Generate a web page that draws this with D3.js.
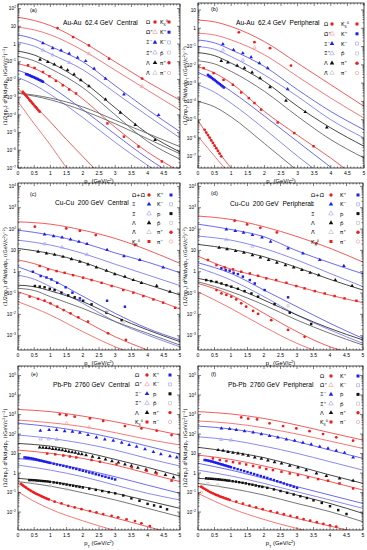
<!DOCTYPE html>
<html>
<head>
<meta charset="utf-8">
<script src="https://cdn.jsdelivr.net/npm/d3@7"></script>
<style>
  body { margin: 0; background: #fff; }
  text { font-family: "Liberation Sans", "DejaVu Sans", Arial, sans-serif; fill: #000; }
  text.greek { font-family: "DejaVu Sans", "Noto Sans", sans-serif; }
</style>
</head>
<body>
<svg id="chart" width="367" height="550"></svg>
<script>
// values are log10 of (1/2πpT) d²N/dydpT

// ---- panel (a) Au-Au 62.4 GeV central
const titleA = "Au-Au  62.4 GeV  Central";
const legendA = [["Om", "K0"], ["OmB", "Kp"], ["Xi", "Km"], ["XiB", "pB"], ["La", "pip"], ["LaB", "pim"]];
const curvesA = [
  { sp: "Om",  v: [[0, 1.51], [0.5, 1.33], [1, 1.04], [2, 0.11], [3, -1.01], [4, -2.14], [5, -3.17]] },
  { sp: "OmB", v: [[0, 0.95], [0.5, 0.80], [1, 0.52], [2, -0.36], [3, -1.48], [4, -2.61], [5, -3.73]] },
  { sp: "Xi",  v: [[0, 0.52], [0.5, 0.28], [1, -0.13], [2, -1.0], [3, -2.35], [4, -3.7], [5, -4.95]] },
  { sp: "XiB", v: [[0, 0.11], [0.5, -0.12], [1, -0.55], [2, -1.45], [3, -2.75], [4, -4.05], [5, -5.3]] },
  { sp: "La",  v: [[0, -0.40], [0.5, -0.62], [1, -1.05], [2, -2.12], [3, -3.6], [4, -5.05], [5, -6.1]] },
  { sp: "LaB", v: [[0, -0.70], [0.5, -0.95], [1, -1.39], [2, -2.46], [3, -4.0], [4, -5.5], [5, -6.5]] },
  { sp: "K0",  v: [[0, -1.11], [0.5, -1.38], [1, -1.85], [2, -3.1], [3, -4.7], [4, -6.1], [5, -7.2]] },
  { sp: "Kp",  v: [[0, -1.48], [0.5, -1.85], [1, -2.4], [2, -3.7], [3, -5.1], [4, -6.45], [5, -7.6]] },
  { sp: "Km",  v: [[0, -1.89], [0.5, -2.3], [1, -2.85], [2, -4.15], [3, -5.55], [4, -6.85], [5, -8]] },
  { sp: "pB",  v: [[0, -2.76], [1, -3.05], [2, -3.55], [3, -4.3], [4, -5.05], [5, -5.8]] },
  { sp: "pB",  v: [[0, -2.78], [1, -3.15], [2, -3.75], [3, -4.5], [4, -5.35], [5, -6.2]] },
  { sp: "pip", v: [[0, -2.51], [0.5, -3.45], [1, -4.4], [1.5, -5.4], [2, -6.35], [2.5, -7.3]] },
  { sp: "pim", v: [[0, -3.26], [0.5, -4.5], [1, -5.7], [1.5, -7.0], [1.7, -7.5]] }
];
const pointsA = [
  { sp: "Om", v: [[1.22, 0.90], [1.70, 0.39], [2.19, -0.08], [2.81, -0.83], [3.83, -1.95]] },
  { sp: "Xi", v: [[0.77, 0.05], [1.07, -0.23], [1.33, -0.36], [1.58, -0.55], [1.84, -0.77], [2.09, -0.96], [2.35, -1.39], [2.70, -1.95], [3.27, -2.85], [4.34, -4.01]] },
  { sp: "La", v: [[0.68, -0.88], [0.92, -1.01], [1.12, -1.15], [1.33, -1.30], [1.53, -1.48], [1.73, -1.71], [1.94, -2.04], [2.19, -2.38], [2.70, -3.13], [3.16, -3.88], [3.62, -4.57], [4.23, -5.42]] },
  { sp: "K0", v: [[0.31, -1.20], [0.51, -1.35], [0.77, -1.58], [0.97, -1.82], [1.17, -2.08], [1.38, -2.33], [1.58, -2.57], [1.79, -2.79], [2.76, -4.48], [3.27, -5.23], [3.72, -5.79], [4.44, -6.63]] },
  { sp: "Kp", v: [[0.25, -1.70], [0.29, -1.72], [0.33, -1.76], [0.37, -1.78], [0.41, -1.82], [0.45, -1.85], [0.49, -1.88], [0.53, -1.91], [0.57, -1.95], [0.61, -1.98], [0.65, -2.02], [0.69, -2.05], [0.73, -2.09], [0.77, -2.13]] },
  { sp: "pip", v: [[0.15, -2.70], [0.19, -2.79], [0.23, -2.88], [0.27, -2.96], [0.31, -3.05], [0.35, -3.14], [0.39, -3.23], [0.43, -3.31], [0.47, -3.40], [0.51, -3.49], [0.55, -3.57], [0.59, -3.65], [0.63, -3.74], [0.67, -3.82]] },
  { sp: "XiB", v: [[0.77, -0.35], [1.07, -0.62], [1.58, -1.05]] },
  { sp: "OmB", v: [[2.19, -0.55], [3.83, -2.4]] }
];

// ---- panel (b) Au-Au 62.4 GeV peripheral
const titleB = "Au-Au  62.4 GeV  Peripheral";
const legendB = legendA;
const curvesB = [
  { sp: "Om",  v: [[0, 0.45], [0.5, 0.35], [1, 0.09], [2, -0.73], [3, -1.91], [4, -3.09], [5, -4.27]] },
  { sp: "OmB", v: [[0, -0.27], [0.5, -0.37], [1, -0.64], [2, -1.45], [3, -2.64], [4, -3.82], [5, -4.91]] },
  { sp: "Xi",  v: [[0, -0.64], [0.5, -0.80], [1, -1.18], [2, -2.09], [3, -3.36], [4, -4.55], [5, -5.55]] },
  { sp: "XiB", v: [[0, -1.0], [0.5, -1.15], [1, -1.55], [2, -2.55], [3, -3.73], [4, -5.0], [5, -6.0]] },
  { sp: "La",  v: [[0, -1.33], [0.5, -1.5], [1, -1.91], [2, -2.91], [3, -4.27], [4, -5.45], [5, -6.45]] },
  { sp: "LaB", v: [[0, -1.78], [0.5, -1.95], [1, -2.36], [2, -3.45], [3, -4.82], [4, -6.09], [5, -7.09]] },
  { sp: "K0",  v: [[0, -2.1], [0.5, -2.45], [1, -3.0], [2, -4.55], [3, -5.85], [4, -7.1], [4.4, -7.64]] },
  { sp: "Kp",  v: [[0, -2.42], [0.5, -2.85], [1, -3.45], [2, -4.8], [3, -6.2], [4, -7.6]] },
  { sp: "Km",  v: [[0, -3.09], [0.5, -3.5], [1, -4.1], [2, -5.5], [3, -7.0], [3.5, -7.7]] },
  { sp: "pB",  v: [[0, -4.0], [0.5, -4.3], [1, -4.85], [2, -6.3], [2.9, -7.64]] },
  { sp: "pip", v: [[0, -5.05], [0.5, -6.4], [0.8, -7.2], [1.0, -7.64]] },
  { sp: "pim", v: [[0, -5.91], [0.5, -7.0], [0.8, -7.64]] }
];
const pointsB = [
  { sp: "Om", v: [[1.23, -0.22], [1.70, -0.76], [2.17, -1.09], [2.80, -2.04]] },
  { sp: "Xi", v: [[0.75, -0.87], [1.07, -1.18], [1.35, -1.36], [1.6, -1.58], [1.85, -1.91], [2.1, -2.18], [2.7, -3.33]] },
  { sp: "La", v: [[0.7, -1.78], [0.9, -1.87], [1.18, -2.04], [1.4, -2.18], [1.63, -2.42], [1.87, -2.73], [2.17, -3.22], [2.65, -3.96], [3.23, -4.58], [3.88, -5.42]] },
  { sp: "K0", v: [[0.17, -2.18], [0.47, -2.45], [0.77, -2.82], [1.05, -3.09], [1.3, -3.51], [1.53, -3.82], [1.7, -4.09], [1.9, -4.45], [2.4, -5.15], [2.9, -5.73], [3.48, -6.45]] },
  { sp: "Kp", v: [[0.3, -2.55], [0.34, -2.61], [0.38, -2.66], [0.42, -2.72], [0.46, -2.78], [0.5, -2.83], [0.54, -2.89], [0.58, -2.95], [0.62, -3.01], [0.66, -3.06], [0.7, -3.12], [0.74, -3.18], [0.78, -3.24]] },
  { sp: "pip", v: [[0.2, -5.55], [0.25, -5.7], [0.3, -5.84], [0.35, -5.98], [0.4, -6.13], [0.45, -6.27], [0.5, -6.42], [0.55, -6.56], [0.6, -6.71], [0.65, -6.85], [0.7, -7.0]] },
  { sp: "XiB", v: [[0.75, -1.2], [1.35, -1.75]] },
  { sp: "OmB", v: [[1.7, -1.05]] }
];

// ---- panel (c) Cu-Cu 200 GeV central
const titleC = "Cu-Cu  200 GeV  Central";
const legendC = [["OmOmB", "Kp"], ["Xi0", "Km"], ["XiB0", "p"], ["La", "pB"], ["LaB", "pip"], ["K0", "pim"]];
const curvesC = [
  { sp: "OmOmB", v: [[0, 2.34], [1, 2.23], [2, 1.95], [3, 1.56], [4, 1.02], [5, 0.39]] },
  { sp: "Xi0",   v: [[0, 1.95], [1, 1.72], [2, 1.36], [3, 0.88], [4, 0.45], [5, -0.05]] },
  { sp: "XiB0",  v: [[0, 1.48], [1, 1.25], [2, 0.86], [3, 0.35], [4, -0.15], [5, -0.65]] },
  { sp: "La",    v: [[0, 1.09], [1, 0.85], [2, 0.45], [3, -0.10], [4, -0.60], [5, -1.09]] },
  { sp: "K0",    v: [[0, 0.55], [0.5, 0.38], [1, 0.12], [2, -0.27], [3, -0.70], [4, -1.18], [5, -1.75]] },
  { sp: "Kp",    v: [[0, 0.23], [0.5, -0.05], [1, -0.35], [2, -1.15], [3, -1.95], [4, -2.66], [5, -3.2]] },
  { sp: "Km",    v: [[0, -0.16], [0.5, -0.35], [1, -0.70], [2, -1.48], [3, -2.34], [4, -2.97], [5, -3.52]] },
  { sp: "p",     v: [[0, -0.63], [0.5, -0.7], [1, -0.9], [2, -1.4], [3, -2.11], [4, -2.73], [5, -3.28]] },
  { sp: "pB",    v: [[0, -0.78], [0.5, -0.88], [1, -1.17], [2, -1.72], [3, -2.34], [4, -2.89], [5, -3.44]] },
  { sp: "pip",   v: [[0, -0.94], [0.5, -1.2], [1, -1.5], [2, -2.27], [3, -3.05], [4, -3.67]] },
  { sp: "pim",   v: [[0, -1.41], [0.5, -1.7], [1, -2.03], [2, -2.81], [3, -3.52], [3.3, -3.7]] }
];
const pointsC = [
  { sp: "OmOmB", v: [[0.52, 2.11], [1.49, 2.03], [1.91, 1.92], [2.40, 1.72], [3.61, 1.25]] },
  { sp: "Xi0", v: [[0.82, 1.75], [1.10, 1.67], [1.36, 1.61], [1.62, 1.52], [1.88, 1.41], [2.13, 1.30], [2.75, 1.02], [3.27, 0.73], [3.76, 0.55], [4.48, 0.20]] },
  { sp: "La", v: [[0.62, 0.94], [0.88, 0.86], [1.13, 0.80], [1.39, 0.70], [1.65, 0.59], [1.91, 0.47], [2.16, 0.34], [2.42, 0.20], [2.73, 0.05], [2.99, -0.11], [3.30, -0.23], [3.56, -0.39], [3.81, -0.52], [4.28, -0.67], [4.69, -0.94]] },
  { sp: "K0", v: [[0.67, 0.27], [0.93, 0.11], [1.19, 0.03], [1.44, -0.05], [1.70, -0.16], [2.01, -0.28], [2.27, -0.39], [2.58, -0.52], [2.89, -0.67], [3.25, -0.86], [3.56, -0.98], [3.87, -1.14], [4.18, -1.30], [4.48, -1.45], [4.85, -1.69]] },
  { sp: "Kp", v: [[0.46, 0.0], [0.70, -0.20], [0.88, -0.27], [1.03, -0.36], [1.21, -0.52], [1.47, -0.73], [1.68, -0.98], [1.91, -1.25], [2.75, -1.36], [3.30, -1.64]] },
  { sp: "p", v: [[0.52, -0.67], [0.67, -0.70], [0.82, -0.73], [0.98, -0.80], [1.13, -0.86], [1.34, -0.98], [1.55, -1.11], [1.75, -1.20], [2.01, -1.36], [2.27, -1.53], [2.73, -1.92], [3.20, -2.27]] },
  { sp: "pip", v: [[0.36, -1.17], [0.62, -1.27], [0.82, -1.36], [1.0, -1.48], [1.21, -1.64], [1.41, -1.80], [1.62, -1.95], [1.86, -2.14], [2.16, -2.34], [2.78, -2.89], [3.33, -3.20]] },
  { sp: "XiB0", v: [[0.82, 1.3], [1.36, 1.15], [2.13, 0.8]] },
  { sp: "pB", v: [[2.75, -1.85], [3.27, -2.35]] }
];

// ---- panel (d) Cu-Cu 200 GeV peripheral
const titleD = "Cu-Cu  200 GeV  Peripheral";
const legendD = legendC;
const curvesD = [
  { sp: "OmOmB", v: [[0, 2.61], [1, 2.45], [2, 2.11], [3, 1.65], [4, 1.1], [5, 0.45]] },
  { sp: "Xi0",   v: [[0, 2.23], [1, 1.98], [2, 1.64], [3, 0.98], [4, 0.42], [5, -0.1]] },
  { sp: "XiB0",  v: [[0, 1.67], [1, 1.48], [2, 1.09], [3, 0.55], [4, -0.08], [5, -0.70]] },
  { sp: "La",    v: [[0, 1.28], [1, 1.06], [2, 0.70], [3, 0.20], [4, -0.36], [5, -0.86]] },
  { sp: "K0",    v: [[0, 0.73], [0.5, 0.4], [1, 0.12], [2, -0.27], [3, -0.68], [4, -1.1], [5, -1.45]] },
  { sp: "Kp",    v: [[0, 0.42], [1, -0.08], [2, -0.86], [3, -1.64], [4, -2.42], [5, -3.13]] },
  { sp: "Km",    v: [[0, 0.19], [1, -0.39], [2, -1.17], [3, -2.03], [4, -2.73], [5, -3.36]] },
  { sp: "p",     v: [[0, -0.31], [1, -0.70], [2, -1.33], [3, -2.03], [4, -2.66], [5, -3.20]] },
  { sp: "pB",    v: [[0, -0.47], [1, -0.94], [2, -1.56], [3, -2.27], [4, -2.89], [5, -3.44]] },
  { sp: "pip",   v: [[0, -0.55], [1, -1.09], [2, -1.95], [3, -2.81], [4, -3.52], [4.3, -3.67]] },
  { sp: "pim",   v: [[0, -0.94], [1, -1.72], [2, -2.58], [3, -3.36], [3.5, -3.67]] }
];
const pointsD = [
  { sp: "OmOmB", v: [[1.11, 2.39], [1.49, 2.22], [1.89, 2.06], [2.39, 1.84], [3.59, 1.33]] },
  { sp: "Xi0", v: [[0.86, 1.98], [1.13, 1.91], [1.38, 1.83], [1.65, 1.72], [1.94, 1.61], [2.20, 1.41], [2.73, 1.09], [3.18, 0.86], [3.69, 0.55], [4.42, 0.27]] },
  { sp: "La", v: [[0.64, 1.13], [0.88, 1.06], [1.14, 0.97], [1.39, 0.89], [1.65, 0.78], [1.89, 0.67], [2.14, 0.55], [2.39, 0.42], [2.65, 0.31], [2.9, 0.20], [3.15, 0.08], [3.40, -0.05], [3.66, -0.16], [4.16, -0.39], [4.67, -0.67]] },
  { sp: "K0", v: [[0.30, 0.55], [0.56, 0.31], [0.81, 0.20], [1.06, 0.11], [1.31, 0.0], [1.57, -0.08], [1.82, -0.19], [2.07, -0.31], [2.37, -0.39], [2.68, -0.52], [2.98, -0.67], [3.23, -0.78], [3.54, -0.91], [3.84, -1.02], [4.14, -1.14], [4.44, -1.25], [4.8, -1.36]] },
  { sp: "Kp", v: [[0.71, 0.16], [0.84, 0.08], [0.96, 0.05], [1.08, -0.05], [1.21, -0.11], [1.36, -0.23], [1.57, -0.39], [1.72, -0.55], [2.02, -0.86], [2.73, -1.2]] },
  { sp: "p", v: [[0.25, -0.39], [0.40, -0.44], [0.56, -0.48], [0.71, -0.55], [0.86, -0.63], [1.01, -0.70], [1.21, -0.80], [1.41, -0.91], [1.62, -1.02], [1.82, -1.17], [2.32, -1.52], [2.78, -1.92], [3.43, -2.45]] },
  { sp: "pip", v: [[0.56, -0.86], [0.71, -1.02], [0.86, -1.09], [1.01, -1.17], [1.16, -1.30], [1.31, -1.48], [1.46, -1.64], [1.67, -1.84], [1.82, -1.98], [2.22, -2.27], [2.73, -2.73], [3.23, -3.05]] },
  { sp: "XiB0", v: [[0.86, 1.5], [1.65, 1.2]] },
  { sp: "pB", v: [[2.73, -1.6]] }
];

// ---- panel (e) Pb-Pb 2760 GeV central
const titleE = "Pb-Pb  2760 GeV  Central";
const legendE = [["Om", "Kp"], ["OmB", "Km"], ["Xi", "p"], ["XiB", "pB"], ["La", "pip"], ["K0", "pim"]];
const curvesE = [
  { sp: "Om",  v: [[0, 3.26], [1, 3.15], [2, 2.92], [3, 2.63], [4, 2.29], [5, 1.95]] },
  { sp: "OmB", v: [[0, 2.72], [1, 2.58], [2, 2.38], [3, 2.07], [4, 1.73], [5, 1.44]] },
  { sp: "Xi",  v: [[0, 2.55], [1, 2.38], [2, 2.12], [3, 1.78], [4, 1.38], [5, 0.97]] },
  { sp: "XiB", v: [[0, 1.95], [1, 1.78], [2, 1.52], [3, 1.18], [4, 0.75], [5, 0.36]] },
  { sp: "La",  v: [[0, 1.52], [1, 1.38], [2, 1.09], [3, 0.70], [4, 0.29], [5, -0.15]] },
  { sp: "K0",  v: [[0, 1.18], [1, 1.01], [2, 0.75], [3, 0.41], [4, -0.02], [5, -0.44]] },
  { sp: "Kp",  v: [[0, 0.75], [1, 0.53], [2, 0.19], [3, -0.19], [4, -0.62], [5, -1.04]] },
  { sp: "Km",  v: [[0, 0.41], [1, 0.15], [2, -0.19], [3, -0.62], [4, -1.04], [5, -1.38]] },
  { sp: "p",   v: [[0, -0.27], [1, -0.44], [2, -0.70], [3, -1.04], [4, -1.42], [5, -1.81]] },
  { sp: "pB",  v: [[0, -0.44], [1, -0.67], [2, -1.01], [3, -1.38], [4, -1.81], [5, -2.24]] },
  { sp: "pip", v: [[0, -0.53], [0.5, -1.0], [1, -1.38], [2, -1.87], [3, -2.3], [4, -2.75], [5, -3.2]] },
  { sp: "pim", v: [[0, -0.96], [0.5, -1.45], [1, -1.85], [2, -2.45], [3, -2.95]] }
];
const pointsE = [
  { sp: "Om", v: [[1.29, 3.01], [1.49, 2.97], [1.75, 2.89], [2.22, 2.80], [2.63, 2.67], [3.30, 2.41], [3.81, 2.29], [4.28, 2.17], [4.74, 1.95]] },
  { sp: "Xi", v: [[0.69, 2.17], [0.96, 2.21], [1.19, 2.21], [1.44, 2.15], [1.68, 2.12], [1.91, 2.07], [2.16, 1.95], [2.42, 1.83], [2.68, 1.73], [2.94, 1.66], [3.2, 1.56], [3.43, 1.44], [3.66, 1.35], [3.92, 1.23], [4.18, 1.09], [4.41, 0.97], [4.69, 0.87], [4.9, 0.80]] },
  { sp: "La", v: [[0.67, 1.32], [0.77, 1.30], [0.87, 1.29], [0.97, 1.27], [1.07, 1.24], [1.17, 1.22], [1.27, 1.20], [1.37, 1.17], [1.47, 1.13], [1.57, 1.10], [1.67, 1.07], [1.77, 1.04], [1.87, 1.00], [1.97, 0.97], [2.1, 0.92], [2.3, 0.84], [2.5, 0.77], [2.7, 0.70], [2.9, 0.61], [3.1, 0.54], [3.3, 0.44], [3.5, 0.37], [3.7, 0.27], [3.95, 0.17], [4.25, 0.03], [4.55, -0.10], [4.8, -0.22]] },
  { sp: "K0", v: [[0.9, 1.0], [1.15, 0.96], [1.4, 0.9], [1.6, 0.85], [1.8, 0.80], [2.27, 0.67], [2.53, 0.58], [3.04, 0.46], [3.51, 0.29], [3.97, 0.12], [4.28, -0.02], [4.74, -0.39]] },
  { sp: "Kp", v: [[0.2, 0.80], [0.25, 0.79], [0.3, 0.78], [0.35, 0.77], [0.4, 0.75], [0.45, 0.74], [0.5, 0.72], [0.55, 0.70], [0.6, 0.68], [0.65, 0.66], [0.7, 0.64], [0.75, 0.62], [0.8, 0.60], [0.85, 0.58], [0.9, 0.56], [0.95, 0.54], [1.0, 0.52], [1.1, 0.48], [1.2, 0.44], [1.3, 0.41], [1.4, 0.37], [1.5, 0.33], [1.6, 0.29], [1.7, 0.25], [1.8, 0.21], [1.9, 0.16], [2.0, 0.12], [2.1, 0.08], [2.2, 0.03], [2.3, -0.01], [2.4, -0.06], [2.5, -0.10], [2.6, -0.15], [2.7, -0.19], [2.8, -0.24], [2.9, -0.28], [3.0, -0.33]] },
  { sp: "p", v: [[0.35, -0.36], [0.42, -0.36], [0.49, -0.37], [0.56, -0.38], [0.63, -0.39], [0.7, -0.40], [0.77, -0.41], [0.84, -0.42], [0.91, -0.43], [0.98, -0.45], [1.1, -0.48], [1.2, -0.50], [1.3, -0.53], [1.4, -0.56], [1.5, -0.59], [1.6, -0.62], [1.7, -0.65], [1.8, -0.68], [1.9, -0.71], [2.0, -0.74], [2.2, -0.80], [2.4, -0.86], [2.6, -0.92], [2.8, -0.98], [3.0, -1.04], [3.25, -1.15], [3.5, -1.30], [3.75, -1.42], [4.0, -1.58], [4.2, -1.66], [4.4, -1.73], [4.6, -1.86]] },
  { sp: "pip", v: [[0.1, -0.56], [0.15, -0.63], [0.2, -0.69], [0.25, -0.75], [0.3, -0.81], [0.35, -0.86], [0.4, -0.91], [0.45, -0.96], [0.5, -1.01], [0.55, -1.05], [0.6, -1.09], [0.65, -1.13], [0.7, -1.17], [0.75, -1.21], [0.8, -1.25], [0.85, -1.28], [0.9, -1.32], [0.95, -1.35], [1.13, -1.47], [1.34, -1.56], [1.55, -1.68], [1.75, -1.76], [1.96, -1.85], [2.22, -1.95], [2.42, -2.02], [2.63, -2.10], [2.89, -2.19], [3.09, -2.27], [3.35, -2.38], [3.61, -2.46], [3.81, -2.58], [4.07, -2.72]] },
  { sp: "XiB", v: [[0.7, 1.75], [0.95, 1.75], [1.2, 1.72]] },
  { sp: "OmB", v: [[1.5, 2.55], [2.2, 2.35]] },
  { sp: "pB", v: [[0.5, -0.5], [1.0, -0.65], [1.5, -0.82]] }
];

// ---- panel (f) Pb-Pb 2760 GeV peripheral
const titleF = "Pb-Pb  2760 GeV  Peripheral";
const legendF = legendE;
const curvesF = [
  { sp: "Om",  v: [[0, 3.15], [1, 3.03], [2, 2.80], [3, 2.46], [4, 2.07], [5, 1.69]] },
  { sp: "OmB", v: [[0, 2.67], [1, 2.55], [2, 2.32], [3, 2.0], [4, 1.64], [5, 1.26]] },
  { sp: "Xi",  v: [[0, 2.41], [1, 2.26], [2, 2.0], [3, 1.61], [4, 1.18], [5, 0.75]] },
  { sp: "XiB", v: [[0, 1.86], [1, 1.69], [2, 1.38], [3, 1.01], [4, 0.58], [5, 0.15]] },
  { sp: "La",  v: [[0, 1.32], [1, 1.09], [2, 0.79], [3, 0.36], [4, -0.10], [5, -0.53]] },
  { sp: "K0",  v: [[0, 0.92], [1, 0.70], [2, 0.36], [3, -0.02], [4, -0.44], [5, -0.87]] },
  { sp: "Kp",  v: [[0, 0.50], [1, 0.15], [2, -0.27], [3, -0.70], [4, -1.13], [5, -1.56]] },
  { sp: "Km",  v: [[0, 0.15], [1, -0.15], [2, -0.53], [3, -0.96], [4, -1.38], [5, -1.81]] },
  { sp: "p",   v: [[0, -0.27], [1, -0.41], [2, -0.70], [3, -1.13], [4, -1.56], [5, -2.07]] },
  { sp: "pB",  v: [[0, -0.53], [1, -0.79], [2, -1.13], [3, -1.56], [4, -1.98], [5, -2.50]] },
  { sp: "pip", v: [[0, -0.67], [0.5, -1.07], [1, -1.42], [2, -1.9], [3, -2.33], [4, -2.72], [5, -3.1]] },
  { sp: "pim", v: [[0, -1.04], [1, -1.81], [2, -2.38], [3, -2.84], [3.2, -2.92]] }
];
const pointsF = [
  { sp: "Om", v: [[1.31, 2.85], [1.52, 2.79], [1.79, 2.75], [2.17, 2.55], [2.58, 2.41], [2.98, 2.29], [3.38, 2.15], [3.79, 2.0], [4.19, 1.83], [4.7, 1.66]] },
  { sp: "Xi", v: [[0.71, 2.29], [0.96, 2.26], [1.16, 2.21], [1.41, 2.15], [1.67, 2.09], [1.92, 2.0], [2.17, 1.91], [2.42, 1.83], [2.68, 1.73], [2.93, 1.66], [3.18, 1.56], [3.43, 1.47], [3.69, 1.35], [3.94, 1.26], [4.19, 1.15], [4.44, 1.04], [4.7, 0.80]] },
  { sp: "La", v: [[0.61, 1.18], [0.76, 1.15], [0.91, 1.09], [1.06, 1.04], [1.21, 1.01], [1.36, 0.96], [1.52, 0.89], [1.72, 0.80], [1.92, 0.74], [2.12, 0.65], [2.32, 0.56], [2.53, 0.50], [2.78, 0.38], [3.03, 0.29], [3.28, 0.15], [3.59, -0.02], [3.89, -0.15], [4.29, -0.27], [4.7, -0.39]] },
  { sp: "K0", v: [[0.45, 0.75], [0.66, 0.67], [0.86, 0.62], [1.06, 0.56], [1.26, 0.50], [1.46, 0.44], [1.67, 0.36], [1.87, 0.29], [2.07, 0.21], [2.27, 0.15], [2.53, 0.07], [2.78, -0.02], [3.03, -0.10], [3.33, -0.22], [3.64, -0.31], [3.94, -0.39], [4.29, -0.53], [4.7, -0.79]] },
  { sp: "Kp", v: [[0.2, 0.67], [0.25, 0.66], [0.3, 0.64], [0.35, 0.62], [0.4, 0.60], [0.45, 0.58], [0.5, 0.55], [0.55, 0.53], [0.6, 0.50], [0.65, 0.48], [0.7, 0.45], [0.75, 0.43], [0.8, 0.40], [0.85, 0.38], [0.9, 0.35], [0.95, 0.33], [1.0, 0.30], [1.1, 0.25], [1.2, 0.20], [1.3, 0.15], [1.4, 0.10], [1.5, 0.05], [1.6, 0.0], [1.7, -0.05], [1.8, -0.10], [1.9, -0.15], [2.0, -0.20], [2.1, -0.25], [2.2, -0.31], [2.3, -0.36], [2.4, -0.42], [2.5, -0.47], [2.6, -0.53], [2.7, -0.59], [2.8, -0.64], [2.9, -0.70], [3.0, -0.76]] },
  { sp: "p", v: [[0.25, -0.27], [0.32, -0.28], [0.39, -0.29], [0.46, -0.30], [0.53, -0.31], [0.6, -0.32], [0.67, -0.33], [0.74, -0.35], [0.81, -0.36], [0.88, -0.38], [0.95, -0.39], [1.05, -0.42], [1.15, -0.44], [1.25, -0.47], [1.35, -0.50], [1.45, -0.53], [1.55, -0.57], [1.65, -0.60], [1.75, -0.64], [1.85, -0.68], [1.95, -0.71], [2.1, -0.76], [2.3, -0.84], [2.5, -0.92], [2.7, -1.01], [2.9, -1.10], [3.1, -1.19], [3.3, -1.28], [3.5, -1.40], [3.75, -1.53], [4.0, -1.70], [4.25, -1.90], [4.5, -2.10]] },
  { sp: "pip", v: [[0.1, -0.70], [0.15, -0.76], [0.2, -0.81], [0.25, -0.86], [0.3, -0.91], [0.35, -0.96], [0.4, -1.0], [0.45, -1.04], [0.5, -1.08], [0.55, -1.12], [0.6, -1.15], [0.65, -1.19], [0.7, -1.22], [0.75, -1.25], [0.8, -1.28], [0.85, -1.31], [0.9, -1.34], [0.96, -1.38], [1.16, -1.47], [1.36, -1.57], [1.56, -1.67], [1.76, -1.76], [1.96, -1.85], [2.2, -1.95], [2.4, -2.03], [2.6, -2.11], [2.8, -2.19], [3.0, -2.27], [3.2, -2.36], [3.4, -2.44], [3.6, -2.52], [3.8, -2.60], [4.0, -2.68], [4.19, -2.75]] },
  { sp: "XiB", v: [[0.7, 1.72], [1.0, 1.68]] },
  { sp: "pB", v: [[0.3, -0.55], [0.6, -0.62]] },
  { sp: "pim", v: [[0.1, -0.98]] }
];

// species names: [base, subscript, superscript]
const names = {
  Om: ["Ω", "", ""], OmB: ["Ω\u0304", "", "+"], OmOmB: ["Ω+Ω\u0304", "", ""],
  Xi: ["Ξ", "", "−"], XiB: ["Ξ\u0304", "", "+"], Xi0: ["Ξ", "", ""], XiB0: ["Ξ\u0304", "", ""],
  La: ["Λ", "", ""], LaB: ["Λ\u0304", "", ""], K0: ["K", "S", "0"], Kp: ["K", "", "+"], Km: ["K", "", "−"],
  p: ["p", "", ""], pB: ["p\u0304", "", ""], pip: ["π", "", "+"], pim: ["π", "", "−"]
};
const family = { Om: "r", OmB: "r", OmOmB: "r", K0: "r", pip: "r", pim: "r",
  Xi: "b", XiB: "b", Xi0: "b", XiB0: "b", Kp: "b", Km: "b", La: "k", LaB: "k", p: "k", pB: "k" };
const anti = new Set(["OmB", "XiB", "XiB0", "LaB", "Km", "pB", "pim"]);
const shape = { Om: d3.symbolCircle, OmB: d3.symbolTriangle, OmOmB: d3.symbolCircle,
  Xi: d3.symbolTriangle, XiB: d3.symbolTriangle, Xi0: d3.symbolTriangle, XiB0: d3.symbolTriangle,
  La: d3.symbolTriangle, LaB: d3.symbolTriangle, K0: d3.symbolSquare, Kp: d3.symbolSquare, Km: d3.symbolSquare,
  p: d3.symbolSquare, pB: d3.symbolSquare, pip: d3.symbolCircle, pim: d3.symbolCircle };

const solid = { r: "#ee1d1d", b: "#1d1def", k: "#111111" };
const faint = { r: "#f5a3a3", b: "#a9a9f3", k: "#c2c2c2" };
const lineSolid = { r: "#f14a4a", b: "#5a5aef", k: "#333333" };
const lineAnti = { r: "#f46a6a", b: "#7d7df1", k: "#666666" };

const layout = [
  { id: "a", l: 18, r: 180, t: 4, b: 168, lo: -7, hi: 2.26, tag: [30, 12], title: [63, 25], leg: [146, 155, 160, 169], legY: [22, 10.2] },
  { id: "b", l: 198, r: 364, t: 3, b: 168, lo: -7.64, hi: 1.38, tag: [211, 11], title: [236, 25], leg: [324, 332, 341, 357], legY: [24, 9.8] },
  { id: "c", l: 18, r: 180, t: 183, b: 350, lo: -3.67, hi: 4.16, tag: [30, 196], title: [55, 205], leg: [132, 149, 157, 171], legY: [195, 9.3] },
  { id: "d", l: 198, r: 363, t: 183, b: 350, lo: -3.67, hi: 4.16, tag: [211, 195], title: [230, 206], leg: [311, 331, 340, 358], legY: [195, 9.3] },
  { id: "e", l: 18, r: 180, t: 366, b: 530, lo: -2.92, hi: 5.49, tag: [31, 376], title: [53, 387], leg: [135, 147, 153, 170], legY: [375, 9.4] },
  { id: "f", l: 198, r: 363, t: 366, b: 530, lo: -2.92, hi: 5.49, tag: [211, 376], title: [228, 387], leg: [320, 331, 340, 358], legY: [376, 9.2] }
];
const panelData = [
  [curvesA, pointsA, legendA, titleA], [curvesB, pointsB, legendB, titleB],
  [curvesC, pointsC, legendC, titleC], [curvesD, pointsD, legendD, titleD],
  [curvesE, pointsE, legendE, titleE], [curvesF, pointsF, legendF, titleF]
];

const svg = d3.select("#chart");

function writeName(text, key) {
  const [base, sub, sup] = names[key];
  text.append("tspan").text(base);
  if (sub) text.append("tspan").attr("baseline-shift", "sub").attr("font-size", "65%").text(sub);
  if (sup) text.append("tspan").attr("baseline-shift", "super").attr("font-size", "65%").text(sup);
}

function markStyle(sel, key) {
  const isAnti = anti.has(key);
  sel.attr("fill", isAnti ? "none" : solid[family[key]])
    .attr("stroke", isAnti ? faint[family[key]] : "none")
    .attr("stroke-width", 0.7);
}

function drawPanel(P, curves, points, legend, title) {
  const x = d3.scaleLinear().domain([0, 5]).range([P.l, P.r]);
  const y = d3.scaleLog().domain([10 ** P.lo, 10 ** P.hi]).range([P.b, P.t]);
  const g = svg.append("g");

  svg.append("clipPath").attr("id", "clip-" + P.id)
    .append("rect").attr("x", P.l).attr("y", P.t).attr("width", P.r - P.l).attr("height", P.b - P.t);
  const plot = g.append("g").attr("clip-path", `url(#clip-${P.id})`);

  const line = d3.line()
    .x(d => x(d[0]))
    .y(d => y(10 ** d[1]))
    .curve(d3.curveMonotoneX);

  plot.selectAll("path.fit")
    .data(curves)
    .join("path")
    .attr("class", "fit")
    .attr("d", d => line(d.v))
    .attr("fill", "none")
    .attr("stroke", d => (anti.has(d.sp) ? lineAnti : lineSolid)[family[d.sp]])
    .attr("stroke-width", 0.9);

  points.forEach(s => {
    const sym = d3.symbol().type(shape[s.sp]).size(anti.has(s.sp) ? 5 : 6);
    plot.append("g").selectAll("path")
      .data(s.v)
      .join("path")
      .attr("transform", d => `translate(${x(d[0])},${y(10 ** d[1])})`)
      .attr("d", sym)
      .call(markStyle, s.sp);
  });

  // frame and inward ticks on all sides
  g.append("rect")
    .attr("x", P.l).attr("y", P.t)
    .attr("width", P.r - P.l).attr("height", P.b - P.t)
    .attr("fill", "none").attr("stroke", "#000").attr("stroke-width", 0.7);

  const ticks = g.append("g").attr("stroke", "#000").attr("stroke-width", 0.5);
  d3.range(0, 5.001, 0.1).forEach((v, i) => {
    const len = i % 5 === 0 ? 3 : 1.5;
    ticks.append("line").attr("x1", x(v)).attr("x2", x(v)).attr("y1", P.b).attr("y2", P.b - len);
    ticks.append("line").attr("x1", x(v)).attr("x2", x(v)).attr("y1", P.t).attr("y2", P.t + len);
  });
  for (let n = Math.floor(P.lo); n <= Math.ceil(P.hi); n++) {
    for (let k = 1; k <= 9; k++) {
      const lv = n + Math.log10(k);
      if (lv < P.lo || lv > P.hi) continue;
      const len = k === 1 ? 3 : 1.5;
      const yy = y(10 ** lv);
      ticks.append("line").attr("x1", P.l).attr("x2", P.l + len).attr("y1", yy).attr("y2", yy);
      ticks.append("line").attr("x1", P.r).attr("x2", P.r - len).attr("y1", yy).attr("y2", yy);
    }
  }

  // tick labels
  g.append("g").selectAll("text")
    .data(d3.range(0, 5.001, 0.5))
    .join("text")
    .attr("x", d => x(d))
    .attr("y", P.b + 7)
    .attr("text-anchor", "middle")
    .attr("font-size", 5)
    .text(d => (d % 1 === 0 ? d : d.toFixed(1)));

  const decades = d3.range(Math.ceil(P.lo), Math.floor(P.hi) + 1);
  decades.forEach(n => {
    const t = g.append("text")
      .attr("x", P.l - 2)
      .attr("y", y(10 ** n) + 1.7)
      .attr("text-anchor", "end")
      .attr("font-size", 4.8);
    if (n === 0) t.text("1");
    else if (n === 1) t.text("10");
    else {
      t.append("tspan").text("10");
      t.append("tspan").attr("baseline-shift", "super").attr("font-size", "70%").text(n < 0 ? "−" + (-n) : n);
    }
  });

  // axis titles
  const xt = g.append("text")
    .attr("x", (P.l + P.r) / 2)
    .attr("y", P.b + 15)
    .attr("text-anchor", "middle")
    .attr("font-size", 5.8);
  xt.append("tspan").text("p");
  xt.append("tspan").attr("baseline-shift", "sub").attr("font-size", "70%").text("T");
  xt.append("tspan").text(" (GeV/c");
  xt.append("tspan").attr("baseline-shift", "super").attr("font-size", "70%").text("2");
  xt.append("tspan").text(")");

  const yt = g.append("text")
    .attr("class", "greek")
    .attr("transform", `translate(${P.l - 11},${(P.t + P.b) / 2}) rotate(-90)`)
    .attr("text-anchor", "middle")
    .attr("font-size", 5);
  yt.append("tspan").text("(1/2πp");
  yt.append("tspan").attr("baseline-shift", "sub").attr("font-size", "70%").text("T");
  yt.append("tspan").text(") d");
  yt.append("tspan").attr("baseline-shift", "super").attr("font-size", "70%").text("2");
  yt.append("tspan").text("N/dydp");
  yt.append("tspan").attr("baseline-shift", "sub").attr("font-size", "70%").text("T");
  yt.append("tspan").text(" ((GeV/c");
  yt.append("tspan").attr("baseline-shift", "super").attr("font-size", "70%").text("2");
  yt.append("tspan").text(")");
  yt.append("tspan").attr("baseline-shift", "super").attr("font-size", "70%").text("−2");
  yt.append("tspan").text(")");

  // panel tag and title
  g.append("text").attr("x", P.tag[0]).attr("y", P.tag[1]).attr("font-size", 5.5).text(`(${P.id})`);
  g.append("text").attr("x", P.title[0]).attr("y", P.title[1]).attr("font-size", 6.6)
    .attr("xml:space", "preserve").style("white-space", "pre").text(title);

  // legend
  legend.forEach((row, i) => {
    const ly = P.legY[0] + i * P.legY[1];
    row.forEach((key, c) => {
      const t = g.append("text")
        .attr("class", "greek")
        .attr("x", P.leg[c * 2])
        .attr("y", ly + 2)
        .attr("font-size", 5.4);
      writeName(t, key);
      g.append("path")
        .attr("transform", `translate(${P.leg[c * 2 + 1]},${ly})`)
        .attr("d", d3.symbol().type(shape[key]).size(9))
        .call(markStyle, key);
    });
  });
}

layout.forEach((P, i) => drawPanel(P, ...panelData[i]));
</script>
</body>
</html>
